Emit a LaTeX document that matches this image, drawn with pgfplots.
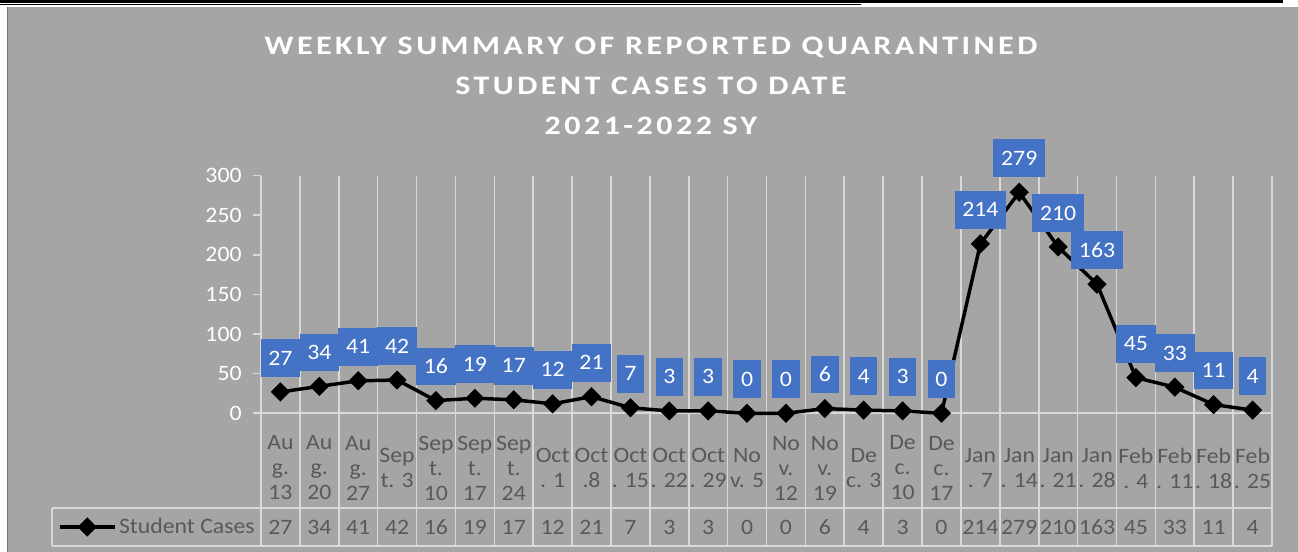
\documentclass[border=0pt]{standalone}
\usepackage{fontspec}
\setmainfont{Carlito}[FakeStretch=1.08]
\newfontfamily\titlefont{Carlito}[FakeStretch=1.2, LetterSpace=13]
\usepackage{pgfplots}
\pgfplotsset{compat=1.18}
\usepackage{pgfplotstable}
\definecolor{bg}{HTML}{A5A5A5}
\definecolor{gridc}{HTML}{D9D9D9}
\definecolor{txt}{HTML}{595959}
\definecolor{lab}{HTML}{4472C4}

\pgfplotstableread{
x y
0.5 27
1.5 34
2.5 41
3.5 42
4.5 16
5.5 19
6.5 17
7.5 12
8.5 21
9.5 7
10.5 3
11.5 3
12.5 0
13.5 0
14.5 6
15.5 4
16.5 3
17.5 0
18.5 214
19.5 279
20.5 210
21.5 163
22.5 45
23.5 33
24.5 11
25.5 4
}\cases

\begin{document}
\begin{tikzpicture}[x=0.75pt,y=0.75pt]
\useasboundingbox (0,0) rectangle (1298,552);
\fill[white] (0,0) rectangle (1298,552);
\fill[bg] (7,0) rectangle (1298,545.3);
\draw[black!55, line width=0.75pt] (7.4,0) -- (7.4,545.3);
\fill[black] (0,549.3) rectangle (1283,552);
\fill[black] (0,546.7) rectangle (861,547.7);

\node[anchor=base, text=white, font=\titlefont\bfseries\fontsize{20}{22}\selectfont] at (651,497.7) {WEEKLY SUMMARY OF REPORTED QUARANTINED};
\node[anchor=base, text=white, font=\titlefont\bfseries\fontsize{20}{22}\selectfont] at (651,457) {STUDENT CASES TO DATE};
\node[anchor=base, text=white, font=\titlefont\bfseries\fontsize{20}{22}\selectfont] at (651,417) {2021-2022 SY};

\begin{axis}[
  at={(195.75pt,104.025pt)}, anchor=south west,
  scale only axis, width=758.25pt, height=178.2pt,
  xmin=0, xmax=26, ymin=0, ymax=300,
  clip=false,
  axis line style={draw=none},
  tick pos=left,
  ytick={0,50,...,300},
  tick align=outside,
  major tick length=6pt,
  ytick style={gridc, line width=1.2pt},
  xtick={0.5,1.5,...,25.5},
  xtick style={draw=none},
  xticklabels={{Au\\g.\\13},{Au\\g.\\20},{Au\\g.\\27},{Sep\\t. 3},{Sep\\t.\\10},{Sep\\t.\\17},{Sep\\t.\\24},{Oct\\. 1},{Oct\\.8},{Oct\\. 15},{Oct\\. 22},{Oct\\. 29},{No\\v. 5},{No\\v.\\12},{No\\v.\\19},{De\\c. 3},{De\\c.\\10},{De\\c.\\17},{Jan\\. 7},{Jan\\. 14},{Jan\\. 21},{Jan\\. 28},{Feb\\. 4},{Feb\\. 11},{Feb\\. 18},{Feb\\. 25}},
  xticklabel style={align=center, anchor=center, text=txt, inner sep=0pt, font=\fontsize{16.5}{18.75}\selectfont, yshift=-35pt},
  yticklabel style={text=white, font=\fontsize{16.5}{18}\selectfont, xshift=-5pt},
  /pgf/number format/assume math mode=true,
  legend style={draw=none, fill=none, inner sep=0pt, outer sep=0pt,
    at={(axis description cs:-0.2008,-0.4785)}, anchor=west,
    font=\fontsize{16.5}{18}\selectfont, text=txt},
  legend image code/.code={\draw[mark repeat=2,mark phase=2,#1] plot coordinates {(0pt,0pt) (20.6pt,0pt) (41.2pt,0pt)};},
]
\pgfplotsinvokeforeach{0,...,26}{\draw[gridc, line width=1.2pt] (axis cs:#1,300) -- (axis cs:#1,-167.6);}
\draw[gridc, line width=1.2pt] (axis cs:0,0) -- (axis cs:26,0);
\draw[gridc, line width=1.2pt] (axis cs:-5.375,-119.4) -- (axis cs:26,-119.4);
\draw[gridc, line width=1.2pt] (axis cs:-5.375,-167.6) -- (axis cs:26,-167.6);
\draw[gridc, line width=1.2pt] (axis cs:-5.375,-119.4) -- (axis cs:-5.375,-167.6);

\addplot[black, line width=2.6pt, mark=square*, mark size=3.8pt, mark options={rotate=45, solid},
  nodes near coords,
  nodes near coords style={fill=lab, text=white, font=\fontsize{16.5}{18}\selectfont, anchor=center, yshift=25.5pt, inner xsep=5.8pt, inner ysep=0pt, minimum height=28.3pt}]
  table[x=x,y=y]{\cases};
\addlegendentry{Student Cases}

\addplot[draw=none, mark=none, forget plot, nodes near coords, point meta=explicit,
  nodes near coords style={text=txt, anchor=center, font=\fontsize{16.5}{18}\selectfont}]
  table[x=x, y expr=-143.6, meta=y]{\cases};
\end{axis}
\end{tikzpicture}
\end{document}
